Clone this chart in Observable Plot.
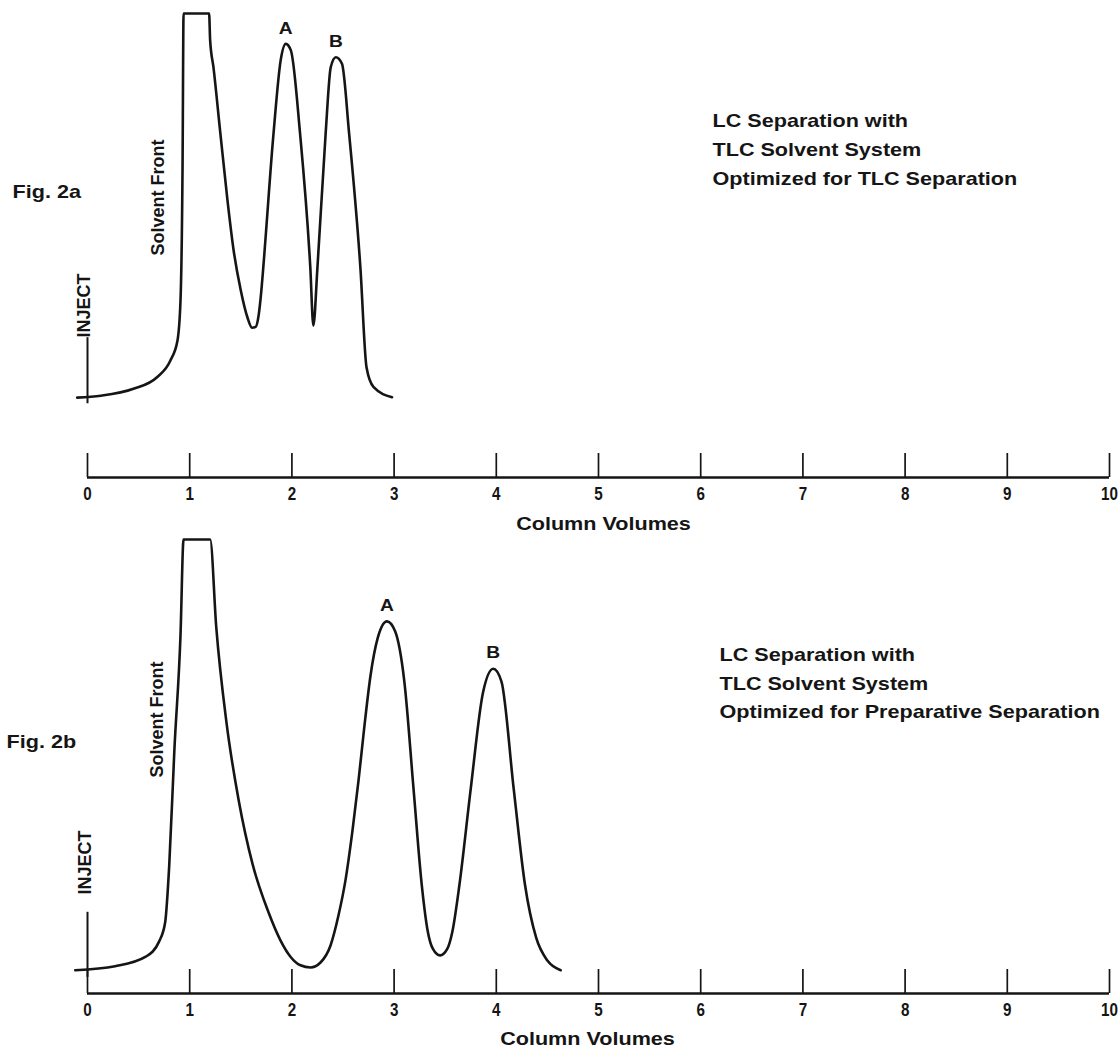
<!DOCTYPE html>
<html>
<head>
<meta charset="utf-8">
<script src="https://cdn.jsdelivr.net/npm/d3@7"></script>
<script src="https://cdn.jsdelivr.net/npm/@observablehq/plot@0.6"></script>
<style>
  html, body { margin: 0; padding: 0; background: #ffffff; }
  #chart svg { display: block; }
</style>
</head>
<body>
<div id="chart"></div>
<script>
// ---------- data ----------
const tickValues = [0, 1, 2, 3, 4, 5, 6, 7, 8, 9, 10];
const axisTitle = "Column Volumes";
const solventLabel = "Solvent Front";
const injectLabel = "INJECT";

// Fig. 2a  (x: column volumes, y: detector response, relative units, 100 = off-scale)
const fig2aLabel = "Fig. 2a";
const legend2a = ["LC Separation with", "TLC Solvent System", "Optimized for TLC Separation"];
const curve2aX = [-0.10, 0.13, 0.45, 0.68, 0.81, 0.88, 0.91, 0.93, 0.94, 1.19, 1.20, 1.233, 1.30, 1.37, 1.43, 1.50, 1.566, 1.61, 1.645, 1.675, 1.70, 1.72, 1.82, 1.89, 1.94, 1.99, 2.08, 2.18, 2.21, 2.25, 2.33, 2.38, 2.43, 2.49, 2.56, 2.67, 2.73, 2.80, 2.98];
const curve2aY = [0, 0.5, 2.3, 5.3, 9.6, 14.8, 25.3, 60, 100, 100, 93, 85.9, 68.8, 51.3, 38.3, 27.9, 20.8, 18.2, 18.4, 21.5, 27.5, 33.9, 68.7, 87.8, 92.1, 90.4, 68.7, 33.9, 18.75, 33.9, 68.7, 86, 88.6, 86.9, 68.7, 33.9, 7.9, 2.7, 0.1];
const peakLabels2a = ["A", "B"];
const peakX2a = [1.94, 2.43];
const peakY2a = [92.1, 88.6];
const inject2a = {x: 0, y1: -1.6, y2: 15.6};

// Fig. 2b
const fig2bLabel = "Fig. 2b";
const legend2b = ["LC Separation with", "TLC Solvent System", "Optimized for Preparative Separation"];
const curve2bX = [-0.12, 0.27, 0.57, 0.70, 0.76, 0.80, 0.85, 0.91, 0.94, 1.20, 1.26, 1.36, 1.48, 1.614, 1.771, 1.888, 1.986, 2.084, 2.182, 2.28, 2.378, 2.456, 2.524, 2.593, 2.652, 2.71, 2.769, 2.838, 2.93, 3.01, 3.10, 3.19, 3.27, 3.33, 3.38, 3.45, 3.52, 3.57, 3.64, 3.75, 3.87, 3.97, 4.05, 4.17, 4.28, 4.39, 4.50, 4.63];
const curve2bY = [0.07, 1.0, 3.2, 6.7, 11.2, 24.5, 51.1, 77.8, 100, 100, 79.6, 57.5, 39.4, 24.8, 13.5, 7.0, 3.2, 1.2, 0.7, 1.86, 5.8, 12.8, 20.9, 32.5, 44.1, 56.8, 68.4, 77.0, 81.0, 78.7, 67.1, 42.2, 20, 9, 5, 3.5, 5, 9, 20, 42.2, 64.5, 70, 67.1, 42.2, 20, 7.6, 2.3, 0.07];
const peakLabels2b = ["A", "B"];
const peakX2b = [2.93, 3.97];
const peakY2b = [81.0, 70];
const inject2b = {x: 0, y1: -1.6, y2: 13.5};

// ---------- drawing ----------
const ink = "#151515";
const font = "'Liberation Sans', Arial, Helvetica, sans-serif";

function chromatogram(cfg) {
  const curve = cfg.curveX.map((x, i) => ({x, y: cfg.curveY[i]}));
  const peaks = cfg.peakLabels.map((label, i) => ({label, x: cfg.peakX[i], y: cfg.peakY[i]}));
  const plotH = cfg.height - cfg.marginTop - cfg.marginBottom;
  const tickLen = cfg.tickPx * (100 - cfg.yMin) / plotH;
  const bold = {fontSize: 18, fontWeight: "bold", fill: ink};
  return Plot.plot({
    width: 1119,
    height: cfg.height,
    marginTop: cfg.marginTop,
    marginBottom: cfg.marginBottom,
    marginLeft: 87,
    marginRight: 10,
    x: {domain: [0, 10]},
    y: {domain: [cfg.yMin, 100], axis: null},
    style: {fontFamily: font, background: "#ffffff", color: ink, overflow: "visible"},
    marks: [
      Plot.ruleY([cfg.yMin], {stroke: ink, strokeWidth: 2.6}),
      Plot.ruleX(tickValues, {x: d => d, y1: cfg.yMin, y2: cfg.yMin + tickLen, stroke: ink, strokeWidth: 1.7}),
      Plot.axisX(tickValues, {anchor: "bottom", tickSize: 0, tickPadding: 9, tickFormat: d => String(d), fontSize: 19, fontWeight: "bold", fill: ink, label: null}),
      Plot.line(curve, {x: "x", y: "y", curve: "monotone-x", stroke: ink, strokeWidth: 2.6, strokeLinejoin: "round"}),
      Plot.ruleX([cfg.inject], {x: "x", y1: "y1", y2: "y2", stroke: ink, strokeWidth: 2}),
      Plot.text(peaks, {x: "x", y: "y", text: "label", dy: cfg.peakDy, fontSize: 16, fontWeight: "bold", fill: ink}),
      Plot.text([solventLabel], {text: d => d, frameAnchor: "top-left", textAnchor: "middle", lineAnchor: "middle", dx: cfg.solvent[0], dy: cfg.solvent[1], rotate: -90, ...bold}),
      Plot.text([injectLabel], {text: d => d, frameAnchor: "top-left", textAnchor: "middle", lineAnchor: "middle", dx: cfg.injectText[0], dy: cfg.injectText[1], rotate: -90, ...bold}),
      Plot.text([cfg.figLabel], {text: d => d, frameAnchor: "top-left", textAnchor: "start", lineAnchor: "top", dx: cfg.fig[0], dy: cfg.fig[1], ...bold}),
      Plot.text([cfg.legend.join("\n")], {text: d => d, frameAnchor: "top-left", textAnchor: "start", lineAnchor: "top", lineHeight: cfg.legendLH, dx: cfg.legendPos[0], dy: cfg.legendPos[1], ...bold}),
      Plot.text([axisTitle], {text: d => d, frameAnchor: "bottom", textAnchor: "middle", lineAnchor: "middle", dx: cfg.title[0], dy: cfg.title[1], ...bold})
    ]
  });
}

function stretchTexts(svg) {
  svg.querySelectorAll("text").forEach(t => {
    const tr = t.getAttribute("transform") || "";
    if (tr.includes("rotate")) return;
    const g = t.parentNode;
    const isTick = g && g.getAttribute && g.getAttribute("aria-label") === "x-axis tick label";
    const s = isTick ? 0.8 : 1.2;
    const b = t.getBBox();
    const anchor = getComputedStyle(t).textAnchor;
    const cx = anchor === "start" ? b.x : anchor === "end" ? b.x + b.width : b.x + b.width / 2;
    t.setAttribute("transform", `${tr} translate(${cx},0) scale(${s},1) translate(${-cx},0)`.trim());
  });
}

const chartA = chromatogram({
  curveX: curve2aX, curveY: curve2aY,
  peakLabels: peakLabels2a, peakX: peakX2a, peakY: peakY2a,
  inject: inject2a, figLabel: fig2aLabel, legend: legend2a,
  height: 536, marginTop: 13, marginBottom: 59, yMin: -20.8, tickPx: 24,
  peakDy: -15,
  solvent: [71, 184], injectText: [-3, 292], fig: [-75, 172],
  legendPos: [625, 93], legendLH: 1.61, title: [5, 47]
});
const chartB = chromatogram({
  curveX: curve2bX, curveY: curve2bY,
  peakLabels: peakLabels2b, peakX: peakX2b, peakY: peakY2b,
  inject: inject2b, figLabel: fig2bLabel, legend: legend2b,
  height: 514, marginTop: 3, marginBottom: 57, yMin: -5.34, tickPx: 24,
  peakDy: -16,
  solvent: [70, 180], injectText: [-2, 323], fig: [-81, 196],
  legendPos: [632, 102], legendLH: 1.56, title: [-11, 46]
});

const host = document.getElementById("chart");
host.appendChild(chartA);
host.appendChild(chartB);
stretchTexts(chartA);
stretchTexts(chartB);
</script>
</body>
</html>
